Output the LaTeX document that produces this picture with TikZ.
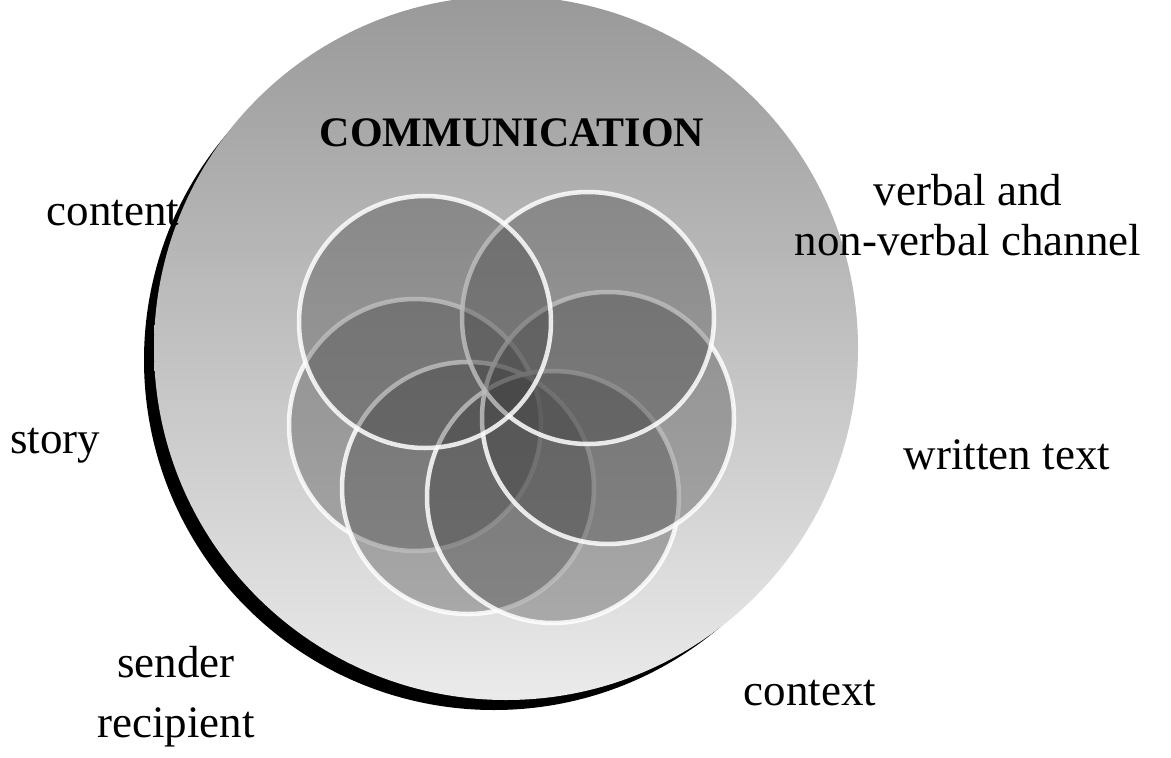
\documentclass[tikz,border=0pt]{standalone}
\usepackage{fontspec}
\setmainfont{Liberation Serif}
\begin{document}
\begin{tikzpicture}[x=1pt,y=-1pt,
  lab/.style={font=\fontsize{45}{50}\selectfont, align=center, inner sep=0pt},
  petal/.style={draw=white, line width=4.5pt, draw opacity=0.85, fill=black!75, fill opacity=0.35}]
\useasboundingbox (0,0) rectangle (1171,758);
\fill[black] (494,360) circle (350);
\shade[top color=black!40, bottom color=black!8] (506,348) circle (352);
\foreach \n/\x/\y in {f/415/425, e/468/488, d/553/497, c/608/418, b/588/318, a/425/322}
  \draw[petal] (\x,\y) coordinate (\n) circle (126);
\node[lab, font=\bfseries\fontsize{42}{46}\selectfont] (t) at (512,133) {COMMUNICATION};
\node[lab] (c1) at (113,213) {content};
\node[lab] (c2) at (968,215) {verbal and\\non-verbal channel};
\node[lab] (c3) at (55,446) {story};
\node[lab] (c4) at (1007,455) {written text};
\node[lab] (c5) at (176,697) {sender\\[10pt]recipient};
\node[lab] (c6) at (810,693) {context};
\end{tikzpicture}
\end{document}
